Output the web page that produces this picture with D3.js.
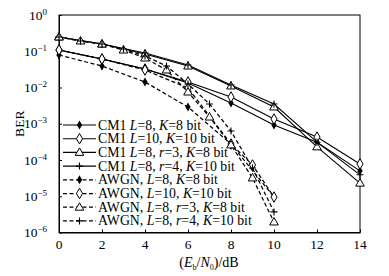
<!DOCTYPE html>
<html><head><meta charset="utf-8">
<script src="https://cdn.jsdelivr.net/npm/d3@7/dist/d3.min.js"></script>
<style>
html,body{margin:0;padding:0;background:#fff;}
svg{display:block;font-family:"Liberation Serif","DejaVu Serif",serif;}
</style></head>
<body><svg id="c" width="389" height="276"></svg>
<script>
// ---- data ----
const xTicks = [0, 2, 4, 6, 8, 10, 12, 14];
const yTickExps = [0, -1, -2, -3, -4, -5, -6];

const cmX = [0, 2, 4, 6, 8, 10, 12, 14];
const cmL8K8 = [0.108, 0.061, 0.0324, 0.0133, 0.00373, 9.2e-4, 3.1e-4, 5.0e-5];
const cmL10K10 = [0.108, 0.061, 0.0324, 0.0142, 0.00547, 1.35e-3, 4.3e-4, 7.8e-5];
const cmL8r3K8 = [0.247, 0.158, 0.084, 0.039, 0.011, 0.0029, 2.3e-4, 2.3e-5];
const cmL8r4K10 = [0.247, 0.158, 0.0895, 0.0418, 0.0117, 0.0035, 3.1e-4, 3.9e-5];

const awX1 = [0, 2, 4, 6, 8, 10];
const awL8K8 = [0.0788, 0.039, 0.0142, 0.0029, 2.76e-4, 9.5e-6];
const awX2 = [0, 2, 4, 6, 8, 9, 10];
const awL10K10 = [0.108, 0.061, 0.0304, 0.0097, 2.76e-4, 7.3e-5, 9.5e-6];
const awX3 = [0, 1, 2, 3, 4, 5, 6, 7, 8, 9, 10];
const awL8r3K8 = [0.247, 0.192, 0.158, 0.108, 0.065, 0.0304, 0.0075, 1.53e-3, 2.6e-4, 3.2e-5, 1.95e-6];
const awL8r4K10 = [0.247, 0.192, 0.158, 0.115, 0.074, 0.039, 0.0125, 0.0035, 6.3e-4, 6.0e-5, 3.7e-6];

const legendLabels = [
  ["CM1 ", ["L", "=8, "], ["K", "=8 bit"]],
  ["CM1 ", ["L", "=10, "], ["K", "=10 bit"]],
  ["CM1 ", ["L", "=8, "], ["r", "=3, "], ["K", "=8 bit"]],
  ["CM1 ", ["L", "=8, "], ["r", "=4, "], ["K", "=10 bit"]],
  ["AWGN, ", ["L", "=8, "], ["K", "=8 bit"]],
  ["AWGN, ", ["L", "=10, "], ["K", "=10 bit"]],
  ["AWGN, ", ["L", "=8, "], ["r", "=3, "], ["K", "=8 bit"]],
  ["AWGN, ", ["L", "=8, "], ["r", "=4, "], ["K", "=10 bit"]]
];

const series = [
  {x: cmX, y: cmL8K8, marker: "fdiamond", dash: null},
  {x: cmX, y: cmL10K10, marker: "odiamond", dash: null},
  {x: cmX, y: cmL8r3K8, marker: "triangle", dash: null},
  {x: cmX, y: cmL8r4K10, marker: "plus", dash: null},
  {x: awX1, y: awL8K8, marker: "fdiamond", dash: "4,2.5"},
  {x: awX2, y: awL10K10, marker: "odiamond", dash: "4,2.5"},
  {x: awX3, y: awL8r3K8, marker: "triangle", dash: "4,2.5"},
  {x: awX3, y: awL8r4K10, marker: "plus", dash: "4,2.5"}
];

// ---- layout ----
const L = 59, R = 360, T = 15, B = 232.5;
const svg = d3.select("#c");
const x = d3.scaleLinear().domain([0, 14]).range([L, R]);
const y = d3.scaleLog().domain([1e-6, 1]).range([B, T]);

function drawMarker(g, type, cx, cy) {
  if (type === "fdiamond") {
    g.append("path").attr("d", d3.symbol(d3.symbolDiamond, 24)())
      .attr("transform", `translate(${cx},${cy})`).attr("fill", "#000");
  } else if (type === "odiamond") {
    g.append("path").attr("d", d3.symbol(d3.symbolDiamond, 32)())
      .attr("transform", `translate(${cx},${cy})`).attr("fill", "#fff").attr("stroke", "#000").attr("stroke-width", 1);
  } else if (type === "triangle") {
    g.append("path").attr("d", d3.symbol(d3.symbolTriangle, 32)())
      .attr("transform", `translate(${cx},${cy+0.5})`).attr("fill", "#fff").attr("stroke", "#000").attr("stroke-width", 1);
  } else if (type === "plus") {
    g.append("path").attr("d", "M-3.5,0H3.5M0,-3.5V3.5")
      .attr("transform", `translate(${cx},${cy})`).attr("fill", "none").attr("stroke", "#000").attr("stroke-width", 1.1);
  }
}

// frame
svg.append("rect").attr("x", L).attr("y", T).attr("width", R - L).attr("height", B - T)
  .attr("fill", "none").attr("stroke", "#000").attr("stroke-width", 1);

// axes (inward ticks)
const xAxis = d3.axisBottom(x).tickValues(xTicks).tickSizeInner(-3).tickSizeOuter(0).tickFormat("");
const gx = svg.append("g").attr("transform", `translate(0,${B})`).call(xAxis);
gx.select(".domain").attr("stroke", "#000");
gx.selectAll(".tick line").attr("stroke", "#000");

const yVals = yTickExps.map(e => Math.pow(10, e));
const yAxis = d3.axisLeft(y).tickValues(yVals).tickSizeInner(-3).tickSizeOuter(0).tickFormat("");
const gy = svg.append("g").attr("transform", `translate(${L},0)`).call(yAxis);
gy.select(".domain").attr("stroke", "#000");
gy.selectAll(".tick line").attr("stroke", "#000");

// x tick labels
svg.append("g").selectAll("text").data(xTicks).join("text")
  .attr("x", d => x(d)).attr("y", B + 16).attr("text-anchor", "middle")
  .attr("font-size", 13.5).attr("fill", "#000").text(d => d);

// y tick labels 10^e
const yl = svg.append("g").selectAll("text").data(yTickExps).join("text")
  .attr("x", 47).attr("y", d => y(Math.pow(10, d)) + 4.5).attr("text-anchor", "end")
  .attr("font-size", 13.5).attr("fill", "#000");
yl.append("tspan").text("10");
yl.append("tspan").attr("dy", -5).attr("font-size", 9).text(d => d === 0 ? "0" : "\u2212" + (-d));

// axis titles
svg.append("text").attr("transform", `translate(24,${(T + B) / 2}) rotate(-90)`)
  .attr("text-anchor", "middle").attr("font-size", 13.5).attr("fill", "#000").text("BER");

const xt = svg.append("text").attr("x", 209).attr("y", 267).attr("text-anchor", "middle")
  .attr("font-size", 14).attr("fill", "#000");
xt.append("tspan").text("(");
xt.append("tspan").attr("font-style", "italic").text("E");
xt.append("tspan").attr("font-size", 8).attr("dy", 3).text("b");
xt.append("tspan").attr("dy", -3).text("/");
xt.append("tspan").attr("font-style", "italic").text("N");
xt.append("tspan").attr("font-size", 8).attr("dy", 3).text("0");
xt.append("tspan").attr("dy", -3).text(")/dB");

// series
const plot = svg.append("g");
const line = d3.line().x(d => x(d[0])).y(d => y(d[1]));
series.forEach(s => {
  const pts = s.x.map((xv, i) => [xv, s.y[i]]);
  plot.append("path").datum(pts).attr("d", line).attr("fill", "none")
    .attr("stroke", "#000").attr("stroke-width", s.dash ? 1.25 : 1.1)
    .attr("stroke-dasharray", s.dash);
});
series.forEach(s => {
  const g = plot.append("g");
  s.x.forEach((xv, i) => drawMarker(g, s.marker, x(xv), y(s.y[i])));
});

// legend
const lg = svg.append("g");
legendLabels.forEach((lab, i) => {
  const cy = 125 + i * 13.7;
  const s = series[i];
  lg.append("line").attr("x1", 63).attr("x2", 96).attr("y1", cy).attr("y2", cy)
    .attr("stroke", "#000").attr("stroke-width", s.dash ? 1.25 : 1.1).attr("stroke-dasharray", s.dash);
  drawMarker(lg, s.marker, 79.5, cy);
  const t = lg.append("text").attr("x", 98).attr("y", cy + 4.5).attr("font-size", 13.8).attr("fill", "#000");
  lab.forEach(part => {
    if (typeof part === "string") t.append("tspan").text(part);
    else {
      t.append("tspan").attr("font-style", "italic").text(part[0]);
      t.append("tspan").text(part[1]);
    }
  });
});
</script></body></html>
